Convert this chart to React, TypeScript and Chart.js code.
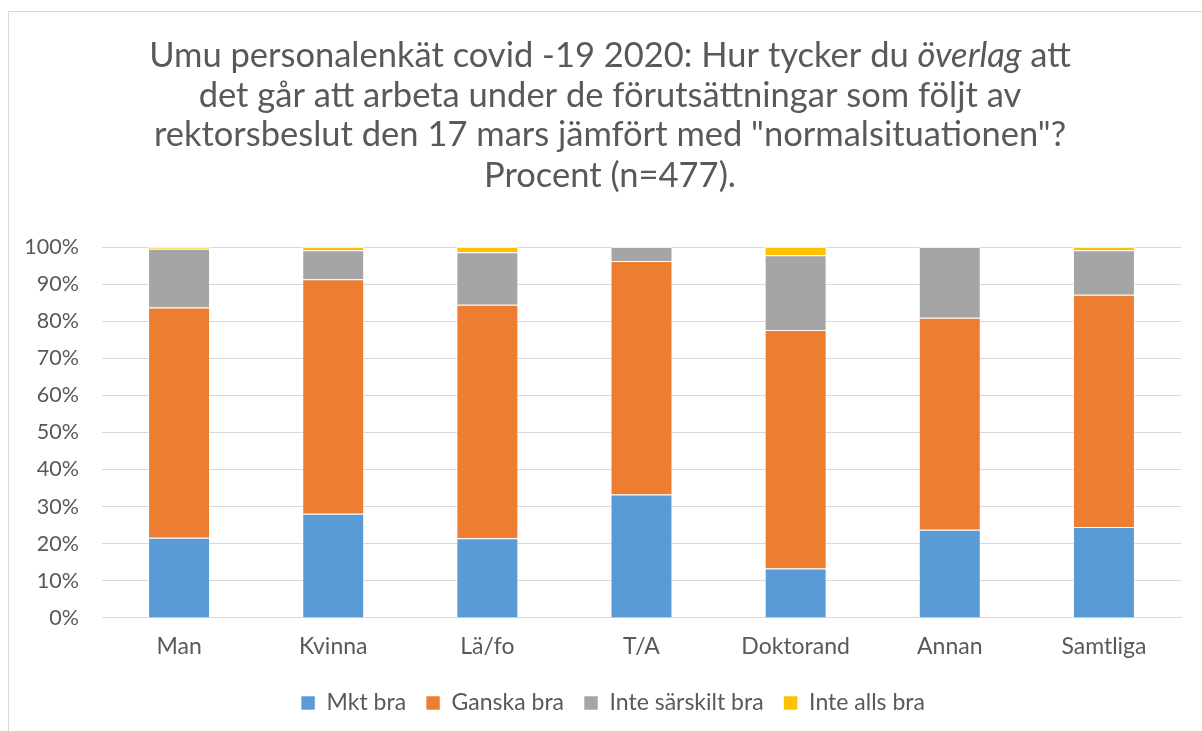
import React, { useEffect, useRef } from "react";
import { Chart, registerables } from "chart.js";

Chart.register(...registerables);

const categories = ["Man", "Kvinna", "Lä/fo", "T/A", "Doktorand", "Annan", "Samtliga"];
const mktBra = [21.6, 28.1, 21.5, 33.3, 13.3, 23.8, 24.5];
const ganskaBra = [62.1, 63.2, 62.9, 62.9, 64.3, 57.1, 62.6];
const inteSarskiltBra = [15.8, 7.8, 14.2, 3.8, 20.2, 19.1, 12.0];
const inteAllsBra = [0.5, 0.9, 1.4, 0, 2.2, 0, 0.9];
const yTicks = [0, 10, 20, 30, 40, 50, 60, 70, 80, 90, 100];

const titleLines: { text: string; italic?: boolean }[][] = [
  [
    { text: "Umu personalenkät covid -19 2020: Hur tycker du " },
    { text: "överlag", italic: true },
    { text: " att" },
  ],
  [{ text: "det går att arbeta under de förutsättningar som följt av" }],
  [{ text: "rektorsbeslut den 17 mars jämfört med \"normalsituationen\"?" }],
  [{ text: "Procent (n=477)." }],
];

const FONT = "Lato, 'Open Sans', sans-serif";
const TEXT = "#595959";

const titlePlugin = {
  id: "richTitle",
  afterLayout(chart: any) {
    const lg = chart.legend;
    if (!lg) return;
    const dx = 613 - (lg.left + lg.right) / 2;
    lg.left += dx;
    lg.right += dx;
    const dy = 698 - (lg.top + lg.bottom) / 2;
    lg.top += dy;
    lg.bottom += dy;
  },
  afterDraw(chart: any) {
    const ctx = chart.ctx;
    const size = 34.5;
    const cx = 610;
    const baselines = [67, 107, 146, 187];
    ctx.save();
    ctx.fillStyle = TEXT;
    ctx.textBaseline = "alphabetic";
    ctx.textAlign = "left";
    titleLines.forEach((segs, i) => {
      const widths = segs.map((s) => {
        ctx.font = `${s.italic ? "italic " : ""}${size}px ${FONT}`;
        return ctx.measureText(s.text).width;
      });
      const total = widths.reduce((a, b) => a + b, 0);
      let x = cx - total / 2;
      segs.forEach((s, j) => {
        ctx.font = `${s.italic ? "italic " : ""}${size}px ${FONT}`;
        ctx.fillText(s.text, x, baselines[i]);
        x += widths[j];
      });
    });
    ctx.restore();
  },
};

export default function App() {
  const ref = useRef<HTMLCanvasElement | null>(null);
  useEffect(() => {
    if (!ref.current) return;
    const segColor = "rgba(255,255,255,0.55)";
    const chart = new Chart(ref.current, {
      type: "bar",
      data: {
        labels: categories,
        datasets: [
          { label: "Mkt bra", data: mktBra, backgroundColor: "#5B9BD5", borderColor: segColor, borderWidth: 1 },
          { label: "Ganska bra", data: ganskaBra, backgroundColor: "#ED7D31", borderColor: segColor, borderWidth: 1 },
          { label: "Inte särskilt bra", data: inteSarskiltBra, backgroundColor: "#A5A5A5", borderColor: segColor, borderWidth: 1 },
          { label: "Inte alls bra", data: inteAllsBra, backgroundColor: "#FFC000", borderColor: segColor, borderWidth: 1 },
        ],
      },
      options: {
        animation: false,
        responsive: false,
        maintainAspectRatio: false,
        datasets: { bar: { categoryPercentage: 0.402, barPercentage: 1 } },
        layout: { padding: { top: 247, left: 10, right: 21, bottom: 10.5 } },
        plugins: {
          title: { display: false },
          tooltip: { enabled: false },
          legend: {
            position: "bottom",
            labels: {
              boxWidth: 14,
              boxHeight: 14,
              padding: 20,
              color: TEXT,
              font: { family: FONT, size: 23 },
            },
          },
        },
        scales: {
          x: {
            stacked: true,
            grid: { display: false },
            border: { color: "#D9D9D9" },
            ticks: { color: TEXT, font: { family: FONT, size: 23 }, padding: 7 },
          },
          y: {
            stacked: true,
            min: 0,
            max: 100,
            afterBuildTicks(scale: any) {
              scale.ticks = yTicks.map((v) => ({ value: v }));
            },
            afterFit(scale: any) {
              scale.width = 92;
            },
            grid: { color: "#D9D9D9", drawTicks: false },
            border: { display: false },
            ticks: {
              color: TEXT,
              font: { family: FONT, size: 21.5 },
              padding: 23,
              callback: (v: any) => `${v}%`,
            },
          },
        },
      },
      plugins: [titlePlugin],
    } as any);
    return () => chart.destroy();
  }, []);

  return (
    <div style={{ position: "fixed", left: 0, top: 0, width: 1202, height: 731, overflow: "hidden", background: "#fff" }}>
      <div
        style={{
          position: "absolute",
          left: 8,
          top: 11,
          width: 1260,
          height: 800,
          border: "1px solid #D9D9D9",
          boxSizing: "border-box",
        }}
      />
      <canvas ref={ref} width={1202} height={731} style={{ position: "absolute", left: 0, top: 0, width: 1202, height: 731 }} />
    </div>
  );
}
